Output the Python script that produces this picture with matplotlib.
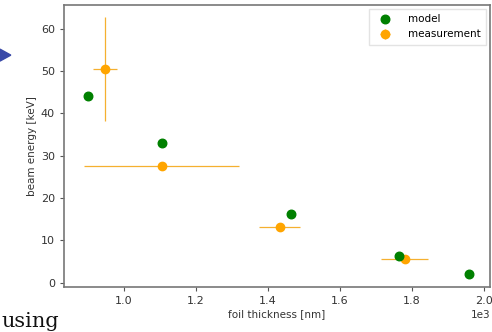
import matplotlib.pyplot as plt
from matplotlib.patches import Polygon

# foil thickness [nm] vs beam energy [keV]
model_thickness = [900, 1105, 1463, 1763, 1958]
model_energy = [44.0, 33.0, 16.2, 6.3, 2.1]

meas_thickness = [948, 1105, 1433, 1780]
meas_energy = [50.5, 27.5, 13.2, 5.5]
meas_thickness_err = [33, 215, 57, 65]
meas_energy_err = [12.3, 0.0, 0.0, 0.0]

fig = plt.figure(figsize=(4.92, 3.32), dpi=100)
ax = fig.add_axes([0.130, 0.1355, 0.866, 0.85])

ax.scatter(model_thickness, model_energy, color="green", s=38, label="model", zorder=3)
ax.errorbar(meas_thickness, meas_energy, xerr=meas_thickness_err, yerr=meas_energy_err,
            fmt="o", color="orange", ecolor="#f5b030", markersize=6, elinewidth=0.9,
            label="measurement", zorder=2)

ax.set_xlim(833, 2017)
ax.set_ylim(-1, 65.6)
ax.set_xticks([1000, 1200, 1400, 1600, 1800, 2000])
ax.set_yticks([0, 10, 20, 30, 40, 50, 60])
ax.ticklabel_format(axis="x", style="sci", scilimits=(3, 3))
ax.xaxis.get_offset_text().set_fontsize(7.5)
ax.tick_params(labelsize=8, length=3, color="#555555", labelcolor="#333333")
for side in ax.spines.values():
    side.set_color("#777777")
    side.set_linewidth(1.2)

ax.set_xlabel("foil thickness [nm]", fontsize=7.5, color="#333333", labelpad=2)
ax.set_ylabel("beam energy [keV]", fontsize=7.5, color="#333333", labelpad=3)
ax.legend(loc="upper right", fontsize=7.5, frameon=True, framealpha=0.8,
          edgecolor="#dddddd", fancybox=False, handletextpad=1.2, borderpad=0.5,
          borderaxespad=0.4)

# bits of the surrounding page
fig.add_artist(Polygon([[0.0, 0.852], [0.022, 0.834], [0.0, 0.816]],
                       closed=True, transform=fig.transFigure, color="#3a4aa8"))
fig.text(0.002, 0.014, "using", fontsize=15, family="DejaVu Serif", color="#111111")

fig.savefig("out.png", dpi=100)
